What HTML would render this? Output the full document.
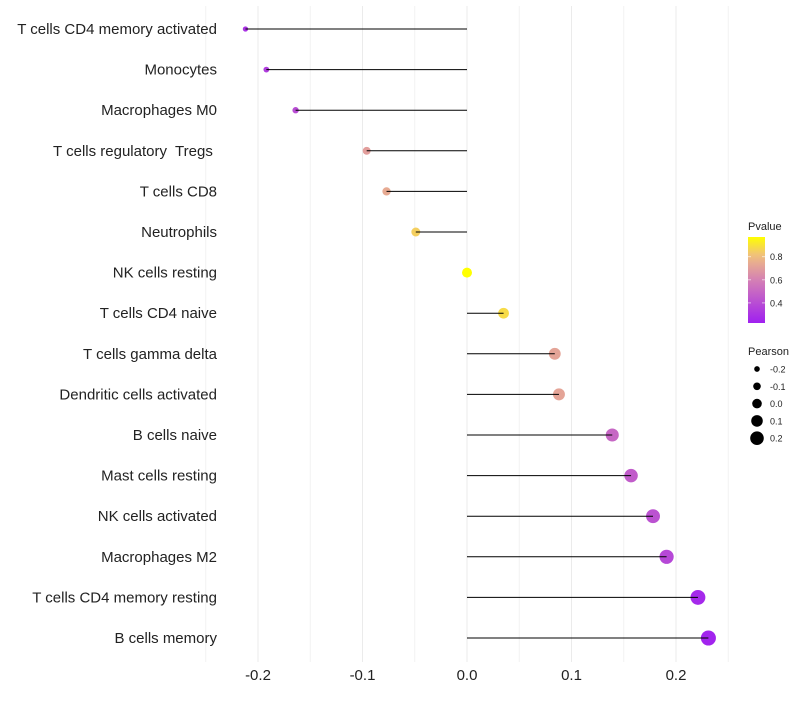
<!DOCTYPE html>
<html><head><meta charset="utf-8"><style>
body{margin:0;background:#fff;font-family:"Liberation Sans",sans-serif}
text{white-space:pre}
</style></head><body>
<svg id="chart" width="800" height="700" xmlns="http://www.w3.org/2000/svg"></svg>
<script>
const categories=["T cells CD4 memory activated","Monocytes","Macrophages M0","T cells regulatory  Tregs ","T cells CD8","Neutrophils","NK cells resting","T cells CD4 naive","T cells gamma delta","Dendritic cells activated","B cells naive","Mast cells resting","NK cells activated","Macrophages M2","T cells CD4 memory resting","B cells memory"];
const pearson=[-0.212,-0.192,-0.164,-0.096,-0.077,-0.049,0,0.035,0.084,0.088,0.139,0.157,0.178,0.191,0.221,0.231];
const pvalue=[0.30,0.34,0.40,0.70,0.74,0.85,0.97,0.88,0.72,0.72,0.50,0.46,0.42,0.38,0.26,0.24];
const xTicks=[-0.2,-0.1,0.0,0.1,0.2];
const xTickLabels=["-0.2","-0.1","0.0","0.1","0.2"];
const xMinor=[-0.25,-0.15,-0.05,0.05,0.15,0.25];
const colorTicks=[0.4,0.6,0.8];
const sizeTicks=[-0.2,-0.1,0.0,0.1,0.2];

const svg=document.getElementById('chart');
const NS="http://www.w3.org/2000/svg";
function el(t,a,p){const e=document.createElementNS(NS,t);for(const k in a)e.setAttribute(k,a[k]);(p||svg).appendChild(e);return e;}
const x=v=>467+v*1045;
const y=i=>29+i*40.6;
const rad=v=>5+v*11;
const pMin=0.226,pMax=0.97;
const stops=[[0,[160,32,240]],[0.5,[212,128,180]],[0.78,[240,190,130]],[1,[255,255,0]]];
function col(p){let t=Math.max(0,Math.min(1,(p-pMin)/(pMax-pMin)));for(let i=1;i<stops.length;i++){if(t<=stops[i][0]){const a=stops[i-1],b=stops[i];const f=(t-a[0])/(b[0]-a[0]);const c=a[1].map((v,j)=>Math.round(v+(b[1][j]-v)*f));return `rgb(${c})`;}}return 'rgb(255,255,0)';}

xMinor.forEach(v=>{const l=el('line',{x1:x(v),x2:x(v),y1:6,y2:662,stroke:'#f2f2f2','stroke-width':1});

});
xTicks.forEach((v,i)=>{const l=el('line',{x1:x(v),x2:x(v),y1:6,y2:662,stroke:'#ebebeb','stroke-width':1});


const t=el('text',{x:x(v),y:680,'text-anchor':'middle','font-size':15,fill:'#222'});t.textContent=xTickLabels[i];

});

categories.forEach((c,i)=>{
const t=el('text',{x:217,y:y(i)+5,'text-anchor':'end','font-size':15,fill:'#222'});t.textContent=c;


const p=el('circle',{cx:x(pearson[i]),cy:y(i),r:rad(pearson[i]),fill:col(pvalue[i])});


const l=el('line',{x1:x(0),x2:x(pearson[i]),y1:y(i),y2:y(i),stroke:'#000','stroke-width':1});


});

const g1=el('g',{});


const t1=el('text',{x:748,y:230,'font-size':11,fill:'#222'},g1);t1.textContent='Pvalue';
const defs=el('defs',{});
const lg=el('linearGradient',{id:'pg',x1:0,y1:1,x2:0,y2:0},defs);
for(let k=0;k<=10;k++){const p=pMin+(pMax-pMin)*k/10;el('stop',{offset:k/10,'stop-color':col(p)},lg);}
const bar=el('rect',{x:748,y:237,width:17,height:86,fill:'url(#pg)'},g1);


const cy=v=>323-(v-pMin)/(pMax-pMin)*86;
colorTicks.forEach(v=>{el('line',{x1:748,x2:751,y1:cy(v),y2:cy(v),stroke:'#fff','stroke-opacity':0.6},g1);el('line',{x1:762,x2:765,y1:cy(v),y2:cy(v),stroke:'#fff','stroke-opacity':0.6},g1);
const t=el('text',{x:770,y:cy(v)+3.5,'font-size':9,fill:'#222'},g1);t.textContent=v.toFixed(1);

});

const g2=el('g',{});


const t2=el('text',{x:748,y:355,'font-size':11,fill:'#222'},g2);t2.textContent='Pearson';
sizeTicks.forEach((v,k)=>{const yy=369+k*17.3;
const c=el('circle',{cx:757,cy:yy,r:rad(v)*0.9+0.3,fill:'#000'},g2);


const t=el('text',{x:770,y:yy+3.5,'font-size':9,fill:'#222'},g2);t.textContent=v.toFixed(1);

});
</script>
</body></html>
